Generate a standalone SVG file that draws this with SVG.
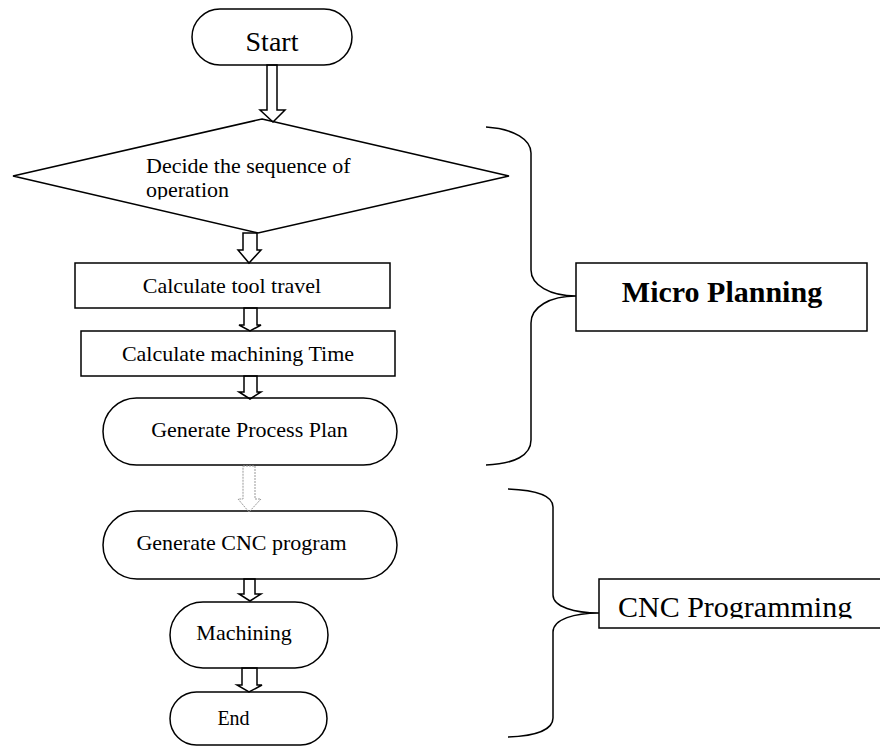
<svg xmlns="http://www.w3.org/2000/svg" width="880" height="747" viewBox="0 0 880 747">
<style>
.s{fill:#fff;stroke:#000;stroke-width:1.5}
.t{font-family:"Liberation Serif","Times New Roman",serif;fill:#000}
.a{fill:none;stroke:#000;stroke-width:1.5;stroke-linejoin:miter}
.g{fill:none;stroke:#999;stroke-width:1;stroke-dasharray:2,1}
.b{fill:none;stroke:#000;stroke-width:1.5}
</style>
<defs>
<clipPath id="c1"><rect x="0" y="0" width="880" height="199.5"/></clipPath>
<clipPath id="c2"><rect x="0" y="0" width="880" height="618.5"/></clipPath>
</defs>
<rect width="880" height="747" fill="#fff"/>
<g id="start">
<rect class="s" x="192" y="9" width="160" height="56" rx="28"/>
<text class="t" x="272" y="51" font-size="28" text-anchor="middle">Start</text>
</g>
<g id="decide">
<polygon class="s" points="262,119 509,176 258,233 13,176"/>
<text class="t" x="146" y="173" font-size="22">Decide the sequence of</text>
<text class="t" x="146" y="197" font-size="22" clip-path="url(#c1)">operation</text>
</g>
<g id="tooltravel">
<rect class="s" x="75" y="263" width="315" height="45"/>
<text class="t" x="232" y="293" font-size="22" text-anchor="middle">Calculate tool travel</text>
</g>
<g id="machtime">
<rect class="s" x="81" y="331" width="314" height="45"/>
<text class="t" x="238" y="361" font-size="22" text-anchor="middle">Calculate machining Time</text>
</g>
<g id="processplan">
<rect class="s" x="103" y="398" width="294" height="67" rx="33.5"/>
<text class="t" x="249.5" y="437" font-size="22" text-anchor="middle">Generate Process Plan</text>
</g>
<g id="cncprog">
<rect class="s" x="103" y="511" width="294" height="68" rx="34"/>
<text class="t" x="241.5" y="550" font-size="22" text-anchor="middle">Generate CNC program</text>
</g>
<g id="machining">
<rect class="s" x="170" y="602" width="158" height="66" rx="33"/>
<text class="t" x="244" y="640" font-size="22" text-anchor="middle">Machining</text>
</g>
<g id="end">
<rect class="s" x="170" y="692" width="157" height="53" rx="26.5"/>
<text class="t" x="233.5" y="725" font-size="20" text-anchor="middle">End</text>
</g>
<g id="microplanning">
<rect class="s" x="576" y="263" width="291" height="68"/>
<text class="t" x="722" y="302" font-size="30" font-weight="bold" text-anchor="middle">Micro Planning</text>
</g>
<g id="cncprogramming">
<rect class="s" x="599" y="579" width="290" height="49"/>
<text class="t" x="618" y="617" font-size="30" clip-path="url(#c2)">CNC Programming</text>
</g>
<g id="connectors">
<path class="a" d="M267,65 L277,65 L277,110 L285,110 L273,122 L260,110 L267,110 Z"/>
<path class="a" d="M243,233 L257,233 L257,250 L261,250 L249,263 L238,250 L243,250 Z"/>
<path class="a" d="M244,308 L257,308 L257,325 L261,325 L250,331 L239,325 L244,325 Z"/>
<path class="a" d="M244,376 L257,376 L257,392 L261,392 L250,399 L239,392 L244,392 Z"/>
<path class="g" d="M243,466 L255,466 L255,499 L261,499 L249,512 L238,499 L243,499 Z"/>
<path class="a" d="M244,579 L255,579 L255,594 L261,594 L250,601 L239,594 L244,594 Z"/>
<path class="a" d="M242,668 L257,668 L257,685 L262,685 L249,692 L237,685 L242,685 Z"/>
<path class="b" d="M486,127 C515,129 531,140 531,153 L531,270 C531,285 550,296 576,296 C550,296 531,307 531,323 L531,440 C531,455 515,464 486,465"/>
<path class="b" d="M508,489 C535,490 553,495 553,507 L553,595 C553,607 575,613 599,613 C575,613 553,619 553,632 L553,718 C553,730 535,736 508,737"/>
</g>
</svg>
